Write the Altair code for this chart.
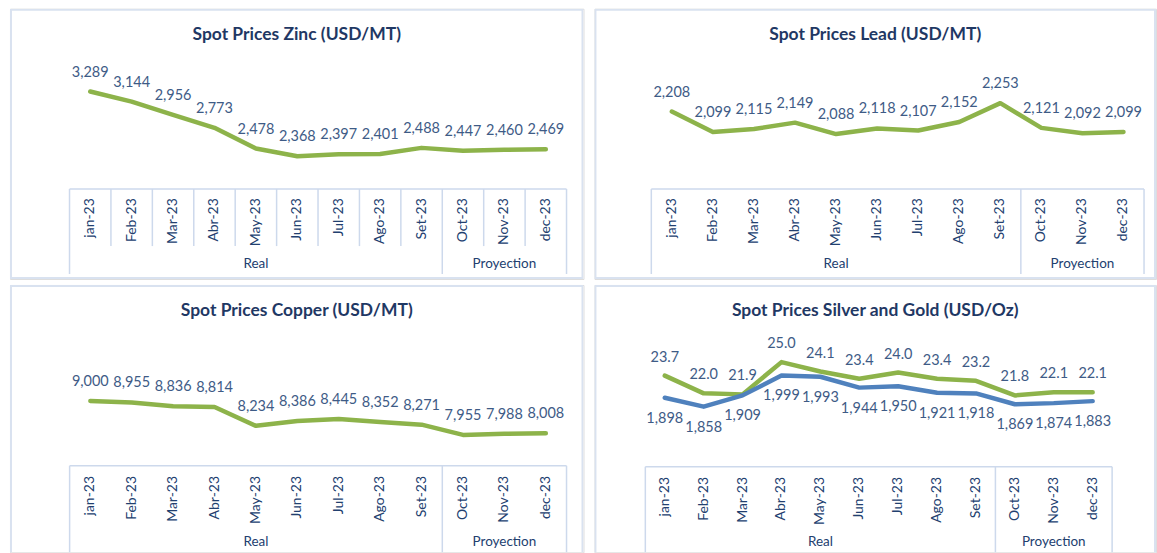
import altair as alt
import pandas as pd

# ---------------- data ----------------
months = ["jan-23", "Feb-23", "Mar-23", "Abr-23", "May-23", "Jun-23",
          "Jul-23", "Ago-23", "Set-23", "Oct-23", "Nov-23", "dec-23"]
groups = ["Real"] * 9 + ["Proyection"] * 3

zinc = [3289, 3144, 2956, 2773, 2478, 2368, 2397, 2401, 2488, 2447, 2460, 2469]
lead = [2208, 2099, 2115, 2149, 2088, 2118, 2107, 2152, 2253, 2121, 2092, 2099]
copper = [9000, 8955, 8836, 8814, 8234, 8386, 8445, 8352, 8271, 7955, 7988, 8008]
silver = [23.7, 22.0, 21.9, 25.0, 24.1, 23.4, 24.0, 23.4, 23.2, 21.8, 22.1, 22.1]
gold = [1898, 1858, 1909, 1999, 1993, 1944, 1950, 1921, 1918, 1869, 1874, 1883]

# ---------------- style ----------------
FONT = "Lato"
TITLE_C = "#1F3864"
AXIS_C = "#22406F"
LABEL_C = "#3E5B86"
GREEN = "#8DB34A"
BLUE = "#4F81BD"
FRAME_C = "#D9E2F0"
BOX_C = "#CDD9EC"

n = len(months)
cat_df = pd.DataFrame({"idx": list(range(n)), "month": months, "group": groups})

# group boundaries and centres derived from the category list
outer_b = [-0.5] + [i + 0.5 for i in range(n - 1) if groups[i] != groups[i + 1]] + [n - 0.5]
inner_b = [i + 0.5 for i in range(n - 1) if groups[i] == groups[i + 1]]
grp_names = list(dict.fromkeys(groups))
grp_df = pd.DataFrame({
    "group": grp_names,
    "center": [sum(i for i, g in enumerate(groups) if g == name) / groups.count(name)
               for name in grp_names],
})
span_df = pd.DataFrame({"lo": [-0.5], "hi": [n - 0.5]})
one = alt.Data(values=[{"k": 1}])


def panel(W, H, title, box_range, box_top, cat_bottom, grp_bottom, label_y,
          group_y, series, all_dividers, open_bottom):
    xs = alt.Scale(domain=[-0.5, n - 0.5], range=box_range, nice=False, zero=False)

    def X(f):
        return alt.X(f, type="quantitative", scale=xs, axis=None)

    layers = []
    # panel frame
    layers.append(
        alt.Chart(one).mark_rect(filled=False, stroke=FRAME_C, strokeWidth=2, clip=True)
        .encode(x=alt.value(1), x2=alt.value(W - 1), y=alt.value(1),
                y2=alt.value(H + 10 if open_bottom else H - 1))
    )
    # axis box top line
    layers.append(
        alt.Chart(span_df).mark_rule(color=BOX_C, strokeWidth=1.5)
        .encode(x=X("lo"), x2="hi", y=alt.value(box_top))
    )
    # outer / group divider lines
    layers.append(
        alt.Chart(pd.DataFrame({"b": outer_b})).mark_rule(color=BOX_C, strokeWidth=1.5, clip=True)
        .encode(x=X("b"), y=alt.value(box_top), y2=alt.value(grp_bottom))
    )
    if all_dividers:
        layers.append(
            alt.Chart(pd.DataFrame({"b": inner_b})).mark_rule(color=BOX_C, strokeWidth=1.5)
            .encode(x=X("b"), y=alt.value(box_top), y2=alt.value(cat_bottom))
        )
    # category labels
    layers.append(
        alt.Chart(cat_df).mark_text(angle=270, align="right", baseline="middle",
                                    font=FONT, fontSize=14, color=AXIS_C)
        .encode(x=X("idx"), y=alt.value(label_y), text="month:N")
    )
    # group labels
    layers.append(
        alt.Chart(grp_df).mark_text(align="center", baseline="middle",
                                    font=FONT, fontSize=13.5, color=AXIS_C)
        .encode(x=X("center"), y=alt.value(group_y), text="group:N")
    )
    # title
    layers.append(
        alt.Chart(one).mark_text(align="center", baseline="middle", font=FONT,
                                 fontSize=17.5, fontWeight="bold", color=TITLE_C)
        .encode(x=alt.value(W / 2), y=alt.value(26), text=alt.value(title))
    )
    # data series
    for vals, color, dom, dy, fmt in series:
        df = pd.DataFrame({"idx": list(range(n)), "v": vals})
        Y = alt.Y("v:Q", scale=alt.Scale(domain=dom, nice=False, zero=False), axis=None)
        layers.append(
            alt.Chart(df).mark_line(color=color, strokeWidth=4.5, strokeCap="round",
                                    strokeJoin="round")
            .encode(x=X("idx"), y=Y)
        )
        layers.append(
            alt.Chart(df).mark_text(dy=dy, align="center", baseline="middle",
                                    font=FONT, fontSize=14.5, color=LABEL_C)
            .encode(x=X("idx"), y=Y, text=alt.Text("v:Q", format=fmt))
        )
    return (alt.layer(*layers)
            .resolve_scale(y="independent")
            .properties(width=W, height=H))


p_zinc = panel(575, 271, "Spot Prices Zinc (USD/MT)", [59.7, 558], 180.7, 238, 266,
               190, 256.3, [(zinc, GREEN, [625.2, 4465.0], -19, ",")], True, False)
p_lead = panel(563, 271, "Spot Prices Lead (USD/MT)", [57, 551], 180.7, 238, 266,
               190, 256.3, [(lead, GREEN, [1314.6, 2757.0], -19, ",")], False, False)
p_copper = panel(575, 268, "Spot Prices Copper (USD/MT)", [59.8, 558], 181.3, 239, 275,
                 191.5, 258, [(copper, GREEN, [4337.5, 12574.5], -19, ",")], False, True)
p_sg = panel(563, 268, "Spot Prices Silver and Gold (USD/Oz)", [51, 519], 182.3, 240, 275,
             192.5, 258,
             [(silver, GREEN, [6.73, 32.41], -18, ".1f"),
              (gold, BLUE, [1200.3, 2407.6], 21, ",")], False, True)

top = alt.hconcat(p_zinc, p_lead, spacing=9)
bottom = alt.hconcat(p_copper, p_sg, spacing=9)
chart = (alt.vconcat(top, bottom, spacing=4)
         .properties(padding={"left": 9, "top": 7, "right": 0, "bottom": 0})
         .configure_view(strokeWidth=0)
         .configure(background="white"))

chart.save("out.html", embed_options={"renderer": "svg", "actions": False})
